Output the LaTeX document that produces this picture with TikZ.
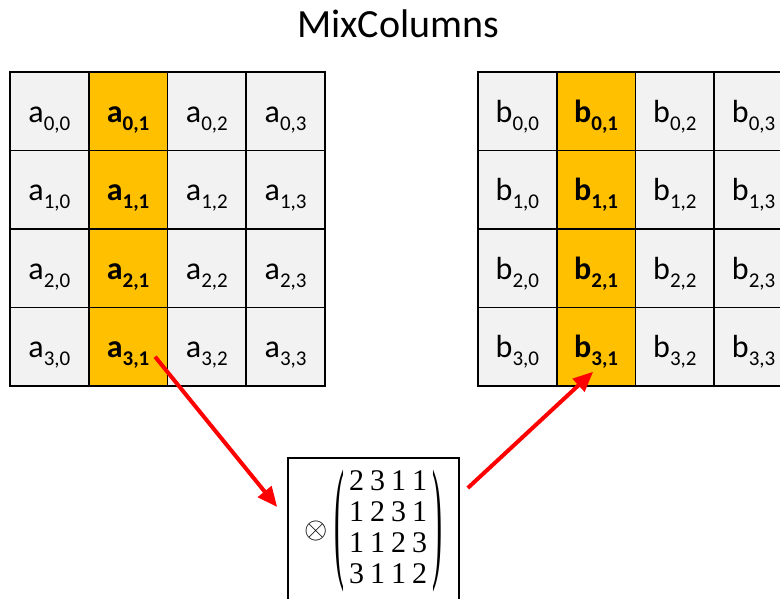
\RequirePackage{fix-cm}
\documentclass[tikz,border=0pt]{standalone}
\usepackage{fontspec}
\setmainfont{Carlito}
\newfontfamily\matfont{Liberation Serif}
\usepackage{amsmath}
\usepackage{graphicx}
\usetikzlibrary{arrows.meta}
\definecolor{cellgrey}{HTML}{F2F2F2}
\definecolor{cellgold}{HTML}{FFC000}
\definecolor{arrowred}{HTML}{FF0000}
\newcommand\cellsub[2]{#1\raisebox{-8pt}{\fontsize{21}{21}\selectfont #2}}
\newcommand\tallparen[1]{\vcenter{\hbox{\scalebox{1}[4.5]{\matfont #1}}}}
\begin{document}
\begin{tikzpicture}[x=1pt,y=-1pt,
  cell/.style={draw,line width=1.6pt,minimum width=78.75pt,minimum height=78.5pt,inner sep=0pt,
    text height=26pt,text depth=4pt,font=\fontsize{32}{34}\selectfont},
  greycell/.style={cell,fill=cellgrey},
  goldcell/.style={cell,fill=cellgold},
  redarrow/.style={draw=arrowred,line width=4pt,-{Triangle[length=20pt,width=17pt]}},
  titletext/.style={font=\fontsize{40}{42}\selectfont,inner sep=0pt}]
\useasboundingbox (0,0) rectangle (780,598);
\clip (0,0) rectangle (780,598);
\fill[white] (0,0) rectangle (780,598);
\node[titletext] (title) at (398,24) {MixColumns};
\foreach \r in {0,...,3}{
  \foreach \c in {0,2,3}{
    \node[greycell] (a-\r-\c) at ({10+78.75*(\c+0.5)},{72+78.5*(\r+0.5)}) {\cellsub{a}{\r,\c}};
    \node[greycell] (b-\r-\c) at ({478+78.75*(\c+0.5)},{72+78.5*(\r+0.5)}) {\cellsub{b}{\r,\c}};
  }
  \node[goldcell] (a-\r-1) at ({10+78.75*1.5},{72+78.5*(\r+0.5)}) {\bfseries\cellsub{a}{\r,1}};
  \node[goldcell] (b-\r-1) at ({478+78.75*1.5},{72+78.5*(\r+0.5)}) {\bfseries\cellsub{b}{\r,1}};
}
\node[draw,line width=1.6pt,minimum width=171pt,minimum height=146pt,inner sep=0pt] (M) at (373.5,531)
  {\fontsize{30}{31}\selectfont
   $\otimes\kern6pt\tallparen{(}\kern5pt\vcenter{\hbox{\matfont\setlength\tabcolsep{3pt}%
     \begin{tabular}{@{}cccc@{}}2&3&1&1\\1&2&3&1\\1&1&2&3\\3&1&1&2\end{tabular}}}\kern5pt\tallparen{)}$};
\draw[redarrow] ([shift={(27,10)}]a-3-1.center) -- ([shift={(-10,-24)}]M.west);
\draw[redarrow] ([shift={(8,-43)}]M.east) -- ([shift={(-3,25)}]b-3-1.center);
\end{tikzpicture}
\end{document}
